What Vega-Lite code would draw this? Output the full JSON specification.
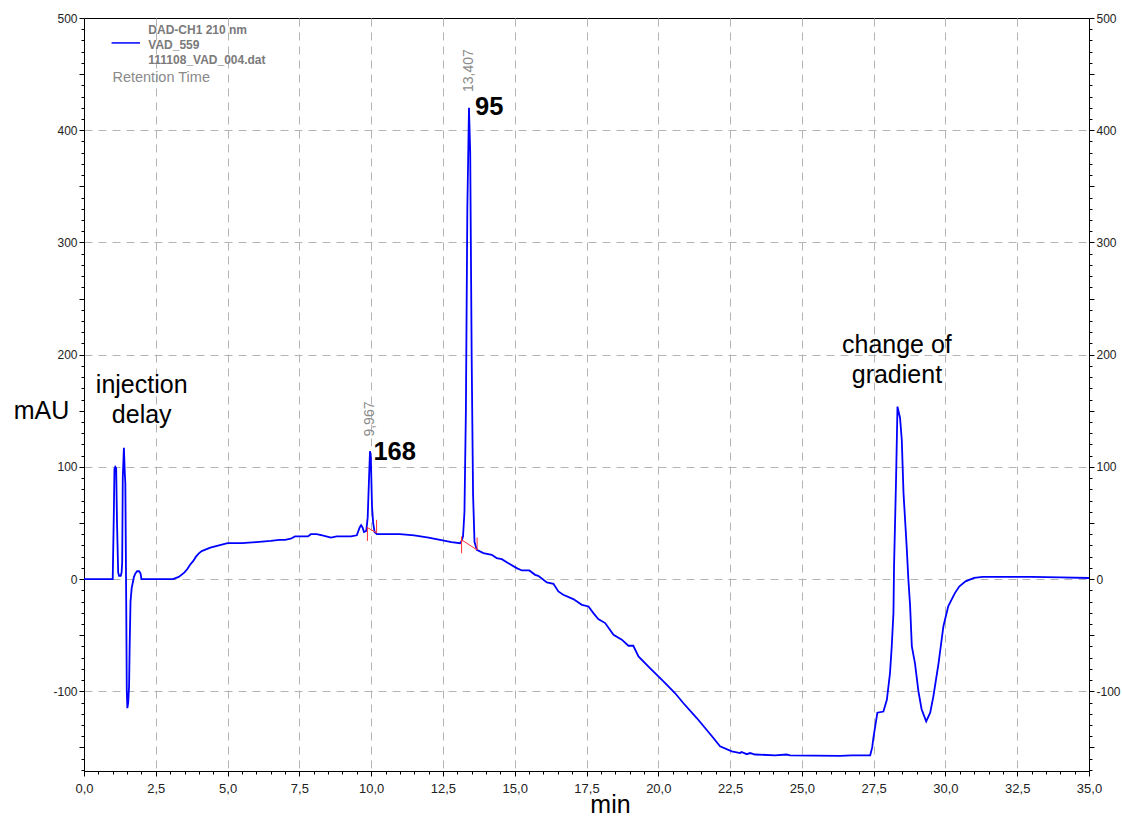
{
  "$schema": "https://vega.github.io/schema/vega-lite/v6.json",
  "width": 1005,
  "height": 753,
  "autosize": {"type": "none"},
  "padding": {"left": 84, "top": 18, "right": 33, "bottom": 45},
  "background": "white",
  "config": {
    "font": "Liberation Sans",
    "view": {"stroke": "black", "strokeWidth": 1}
  },
  "datasets": {
    "trace": [
      {"t": 0, "v": 0}, {"t": 1.0, "v": 0}, {"t": 1.04, "v": 60}, {"t": 1.06, "v": 98},
      {"t": 1.09, "v": 100}, {"t": 1.12, "v": 99}, {"t": 1.15, "v": 50}, {"t": 1.19, "v": 6},
      {"t": 1.22, "v": 3}, {"t": 1.28, "v": 3}, {"t": 1.31, "v": 6}, {"t": 1.33, "v": 15},
      {"t": 1.35, "v": 90}, {"t": 1.39, "v": 117}, {"t": 1.42, "v": 95}, {"t": 1.44, "v": 85},
      {"t": 1.47, "v": -20}, {"t": 1.49, "v": -100}, {"t": 1.51, "v": -115}, {"t": 1.54, "v": -110},
      {"t": 1.57, "v": -95}, {"t": 1.59, "v": -60}, {"t": 1.62, "v": -20}, {"t": 1.66, "v": -8},
      {"t": 1.70, "v": -3}, {"t": 1.74, "v": 2}, {"t": 1.79, "v": 5}, {"t": 1.85, "v": 7},
      {"t": 1.92, "v": 7}, {"t": 1.97, "v": 5}, {"t": 2.0, "v": 0}, {"t": 3.1, "v": 0},
      {"t": 3.3, "v": 2}, {"t": 3.5, "v": 6}, {"t": 3.6, "v": 9}, {"t": 3.7, "v": 13},
      {"t": 3.8, "v": 16}, {"t": 3.9, "v": 20}, {"t": 4.0, "v": 23}, {"t": 4.1, "v": 25},
      {"t": 4.4, "v": 28}, {"t": 4.7, "v": 30}, {"t": 5.0, "v": 32}, {"t": 5.5, "v": 32},
      {"t": 6.0, "v": 33}, {"t": 6.5, "v": 34}, {"t": 6.8, "v": 35}, {"t": 7.0, "v": 35},
      {"t": 7.2, "v": 36}, {"t": 7.35, "v": 38}, {"t": 7.5, "v": 38}, {"t": 7.8, "v": 38},
      {"t": 7.9, "v": 40}, {"t": 8.1, "v": 40}, {"t": 8.3, "v": 39}, {"t": 8.6, "v": 37},
      {"t": 8.8, "v": 38}, {"t": 9.0, "v": 38}, {"t": 9.3, "v": 38}, {"t": 9.5, "v": 39},
      {"t": 9.6, "v": 46}, {"t": 9.65, "v": 48}, {"t": 9.7, "v": 46}, {"t": 9.75, "v": 42},
      {"t": 9.83, "v": 43}, {"t": 9.88, "v": 55}, {"t": 9.92, "v": 85}, {"t": 9.96, "v": 114},
      {"t": 9.99, "v": 108}, {"t": 10.03, "v": 65}, {"t": 10.07, "v": 50}, {"t": 10.12, "v": 42},
      {"t": 10.2, "v": 40}, {"t": 10.5, "v": 40}, {"t": 11.0, "v": 40}, {"t": 11.5, "v": 39},
      {"t": 12.0, "v": 37}, {"t": 12.4, "v": 35}, {"t": 12.8, "v": 33}, {"t": 13.1, "v": 32},
      {"t": 13.15, "v": 34}, {"t": 13.2, "v": 38}, {"t": 13.25, "v": 60}, {"t": 13.3, "v": 150},
      {"t": 13.35, "v": 330}, {"t": 13.407, "v": 420}, {"t": 13.45, "v": 380}, {"t": 13.5, "v": 200},
      {"t": 13.55, "v": 75}, {"t": 13.6, "v": 33}, {"t": 13.68, "v": 26}, {"t": 13.91, "v": 23.2},
      {"t": 14.2, "v": 21.6}, {"t": 14.37, "v": 18.7}, {"t": 14.55, "v": 17.8}, {"t": 14.78, "v": 14.2},
      {"t": 15.07, "v": 9.8}, {"t": 15.25, "v": 7.7}, {"t": 15.51, "v": 7.7}, {"t": 15.71, "v": 3.8},
      {"t": 15.82, "v": 2.9}, {"t": 16.12, "v": -3}, {"t": 16.35, "v": -4.2}, {"t": 16.52, "v": -11},
      {"t": 16.69, "v": -14}, {"t": 17.04, "v": -17.8}, {"t": 17.34, "v": -22.9}, {"t": 17.57, "v": -24.4},
      {"t": 17.74, "v": -30.3}, {"t": 17.91, "v": -35.6}, {"t": 18.15, "v": -39.2}, {"t": 18.44, "v": -49.6},
      {"t": 18.73, "v": -54}, {"t": 18.96, "v": -59.4}, {"t": 19.13, "v": -59.4}, {"t": 19.31, "v": -68.9},
      {"t": 19.71, "v": -79.3}, {"t": 20.18, "v": -91.2}, {"t": 20.58, "v": -101.5}, {"t": 20.87, "v": -110.4},
      {"t": 21.34, "v": -123.8}, {"t": 21.92, "v": -141.6}, {"t": 22.15, "v": -149}, {"t": 22.56, "v": -153.5},
      {"t": 22.85, "v": -155}, {"t": 22.9, "v": -154}, {"t": 23.08, "v": -156}, {"t": 23.2, "v": -155},
      {"t": 23.37, "v": -156.3}, {"t": 24.07, "v": -157}, {"t": 24.47, "v": -156.3}, {"t": 24.59, "v": -157},
      {"t": 26.33, "v": -157.5}, {"t": 26.74, "v": -157}, {"t": 27.38, "v": -157}, {"t": 27.45, "v": -150},
      {"t": 27.49, "v": -141.6}, {"t": 27.63, "v": -119}, {"t": 27.84, "v": -118}, {"t": 27.96, "v": -107.5},
      {"t": 28.07, "v": -83.7}, {"t": 28.13, "v": -60}, {"t": 28.19, "v": -30}, {"t": 28.21, "v": 11},
      {"t": 28.28, "v": 88}, {"t": 28.33, "v": 153.7}, {"t": 28.38, "v": 148}, {"t": 28.42, "v": 143.6},
      {"t": 28.48, "v": 124}, {"t": 28.54, "v": 76.6}, {"t": 28.65, "v": 29}, {"t": 28.71, "v": -0.6},
      {"t": 28.77, "v": -24}, {"t": 28.83, "v": -60}, {"t": 28.94, "v": -75}, {"t": 29.06, "v": -100},
      {"t": 29.17, "v": -116}, {"t": 29.33, "v": -126.8}, {"t": 29.47, "v": -119}, {"t": 29.58, "v": -104.5},
      {"t": 29.76, "v": -75}, {"t": 29.93, "v": -42}, {"t": 30.1, "v": -24}, {"t": 30.33, "v": -12.5},
      {"t": 30.48, "v": -6.6}, {"t": 30.7, "v": -2}, {"t": 31.0, "v": 1}, {"t": 31.3, "v": 2},
      {"t": 32.0, "v": 2}, {"t": 33.0, "v": 2}, {"t": 34.0, "v": 1.5}, {"t": 35.0, "v": 1}
    ],
    "integration": [
      {"t": 9.87, "v": 45.9, "t2": 10.19, "v2": 41.2},
      {"t": 9.87, "v": 46.5, "t2": 9.87, "v2": 34},
      {"t": 10.19, "v": 52.8, "t2": 10.19, "v2": 41.2},
      {"t": 13.15, "v": 35, "t2": 13.69, "v2": 26},
      {"t": 13.15, "v": 38, "t2": 13.15, "v2": 23},
      {"t": 13.69, "v": 37, "t2": 13.69, "v2": 26}
    ],
    "legendSample": [{"t": 0.96, "t2": 1.95, "v": 477.8}],
    "legendBold": [
      {"t": 2.24, "v": 489.1, "label": "DAD-CH1  210 nm"},
      {"t": 2.24, "v": 476, "label": "VAD_559"},
      {"t": 2.24, "v": 462.4, "label": "111108_VAD_004.dat"}
    ],
    "legendPlain": [{"t": 0.99, "v": 446.7, "label": "Retention Time"}],
    "retention": [
      {"t": 9.967, "v": 127, "label": "9,967"},
      {"t": 13.407, "v": 434, "label": "13,407"}
    ],
    "peakIds": [
      {"t": 10.08, "v": 106, "label": "168"},
      {"t": 13.62, "v": 414, "label": "95"}
    ],
    "notes": [
      {"t": 2.01, "v": 165.8, "label": "injection\ndelay"},
      {"t": 28.31, "v": 201.2, "label": "change of\ngradient"}
    ]
  },
  "encoding": {
    "x": {
      "field": "t", "type": "quantitative",
      "scale": {"domain": [0, 35], "nice": false, "zero": false},
      "axis": {
        "title": "min",
        "values": [0,0.5,1,1.5,2,2.5,3,3.5,4,4.5,5,5.5,6,6.5,7,7.5,8,8.5,9,9.5,10,10.5,11,11.5,12,12.5,13,13.5,14,14.5,15,15.5,16,16.5,17,17.5,18,18.5,19,19.5,20,20.5,21,21.5,22,22.5,23,23.5,24,24.5,25,25.5,26,26.5,27,27.5,28,28.5,29,29.5,30,30.5,31,31.5,32,32.5,33,33.5,34,34.5,35],
        "labelExpr": "(datum.value * 2) % 5 == 0 ? replace(format(datum.value, '.1f'), '.', ',') : ''",
        "labelOverlap": false,
        "labelFlush": false,
        "labelBound": false,
        "labelFontSize": 13,
        "labelColor": "#222222",
        "labelPadding": 6,
        "grid": true,
        "gridColor": "#b4b4b4",
        "gridDash": [8, 6],
        "gridWidth": 1,
        "gridOpacity": {"condition": {"test": "(datum.value * 2) % 5 == 0", "value": 1}, "value": 0},
        "tickColor": "black",
        "tickSize": {"condition": {"test": "(datum.value * 2) % 5 == 0", "value": 5}, "value": 3},
        "domainColor": "black",
        "titleFontSize": 25,
        "titleFontWeight": "normal",
        "titleColor": "black",
        "titleX": 526,
        "titleY": 41,
        "titleAlign": "center",
        "titleBaseline": "alphabetic"
      }
    }
  },
  "layer": [
    {
      "data": {"name": "trace"},
      "mark": {"type": "line", "color": "#0000ff", "strokeWidth": 1.8},
      "encoding": {
        "y": {
          "field": "v", "type": "quantitative",
          "scale": {"domain": [-171, 500], "nice": false, "zero": false},
          "axis": {
            "orient": "left",
            "title": "mAU",
            "titleAngle": 0,
            "titleX": -43,
            "titleY": 392,
            "titleAlign": "center",
            "titleBaseline": "middle",
            "titleFontSize": 25,
            "titleFontWeight": "normal",
            "titleColor": "black",
            "values": [-170,-160,-150,-140,-130,-120,-110,-100,-90,-80,-70,-60,-50,-40,-30,-20,-10,0,10,20,30,40,50,60,70,80,90,100,110,120,130,140,150,160,170,180,190,200,210,220,230,240,250,260,270,280,290,300,310,320,330,340,350,360,370,380,390,400,410,420,430,440,450,460,470,480,490,500],
            "labelExpr": "datum.value % 100 == 0 ? toString(datum.value) : ''",
            "labelOverlap": false,
            "labelBound": false,
            "labelFlush": false,
            "labelFontSize": 12,
            "labelColor": "#222222",
            "labelPadding": 2,
            "grid": true,
            "gridColor": "#b4b4b4",
            "gridDash": [8, 6],
            "gridWidth": 1,
            "gridOpacity": {"condition": {"test": "datum.value % 100 == 0 && datum.value < 500", "value": 1}, "value": 0},
            "tickColor": "black",
            "tickSize": {"condition": {"test": "datum.value % 50 == 0", "value": 5}, "value": 3},
            "domainColor": "black"
          }
        }
      }
    },
    {
      "data": {"name": "integration"},
      "mark": {"type": "rule", "color": "#ff3030", "strokeWidth": 1},
      "encoding": {
        "x2": {"field": "t2"},
        "y": {
          "field": "v", "type": "quantitative",
          "axis": {
            "orient": "right",
            "title": null,
            "values": [-170,-160,-150,-140,-130,-120,-110,-100,-90,-80,-70,-60,-50,-40,-30,-20,-10,0,10,20,30,40,50,60,70,80,90,100,110,120,130,140,150,160,170,180,190,200,210,220,230,240,250,260,270,280,290,300,310,320,330,340,350,360,370,380,390,400,410,420,430,440,450,460,470,480,490,500],
            "labelExpr": "datum.value % 100 == 0 ? toString(datum.value) : ''",
            "labelOverlap": false,
            "labelBound": false,
            "labelFlush": false,
            "labelFontSize": 12,
            "labelColor": "#222222",
            "labelPadding": 2,
            "grid": false,
            "tickColor": "black",
            "tickSize": {"condition": {"test": "datum.value % 50 == 0", "value": 5}, "value": 3},
            "domainColor": "black"
          }
        },
        "y2": {"field": "v2"}
      }
    },
    {
      "data": {"name": "legendSample"},
      "mark": {"type": "rule", "color": "#0000ff", "strokeWidth": 1.5},
      "encoding": {
        "x2": {"field": "t2"},
        "y": {"field": "v", "type": "quantitative", "axis": null}
      }
    },
    {
      "data": {"name": "legendBold"},
      "mark": {"type": "text", "align": "left", "baseline": "middle", "fontSize": 12, "fontWeight": "bold", "color": "#7a7a7a"},
      "encoding": {
        "y": {"field": "v", "type": "quantitative", "axis": null},
        "text": {"field": "label"}
      }
    },
    {
      "data": {"name": "legendPlain"},
      "mark": {"type": "text", "align": "left", "baseline": "middle", "fontSize": 14.5, "color": "#8a8a8a"},
      "encoding": {
        "y": {"field": "v", "type": "quantitative", "axis": null},
        "text": {"field": "label"}
      }
    },
    {
      "data": {"name": "retention"},
      "mark": {"type": "text", "align": "left", "baseline": "middle", "angle": 270, "fontSize": 14, "color": "#8a8a8a"},
      "encoding": {
        "y": {"field": "v", "type": "quantitative", "axis": null},
        "text": {"field": "label"}
      }
    },
    {
      "data": {"name": "peakIds"},
      "mark": {"type": "text", "align": "left", "baseline": "alphabetic", "fontSize": 25.5, "fontWeight": "bold", "color": "black"},
      "encoding": {
        "y": {"field": "v", "type": "quantitative", "axis": null},
        "text": {"field": "label"}
      }
    },
    {
      "data": {"name": "notes"},
      "mark": {"type": "text", "align": "center", "baseline": "alphabetic", "fontSize": 25, "lineBreak": "\n", "lineHeight": 30, "color": "black"},
      "encoding": {
        "y": {"field": "v", "type": "quantitative", "axis": null},
        "text": {"field": "label"}
      }
    }
  ],
  "resolve": {"axis": {"y": "independent"}}
}
